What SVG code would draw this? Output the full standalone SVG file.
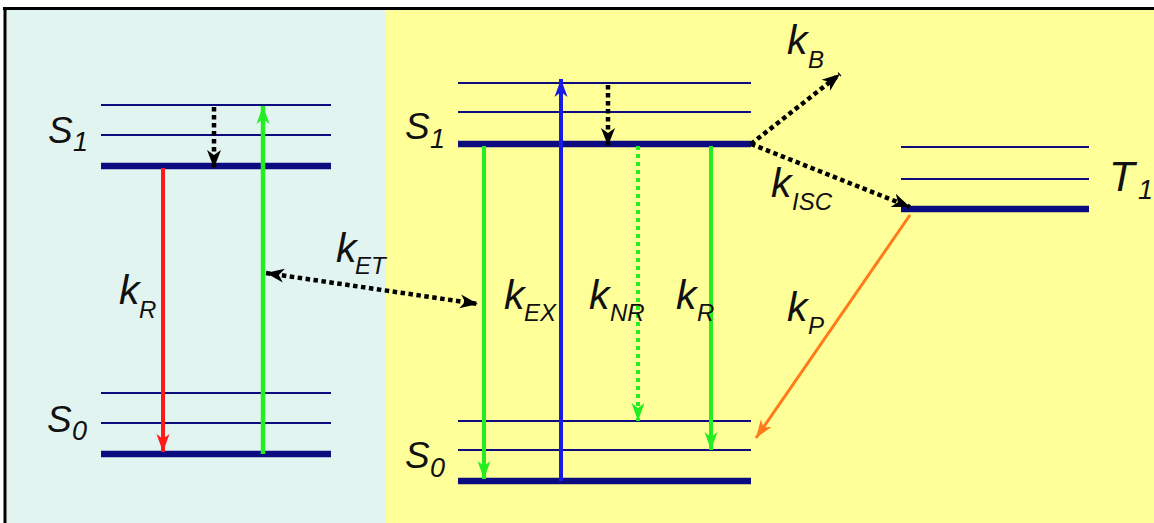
<svg xmlns="http://www.w3.org/2000/svg" width="1154" height="523" viewBox="0 0 1154 523">
<style>
.lv{stroke:#0c0c80;stroke-width:2.2}
.lvt{stroke:#0c0c80;stroke-width:6.5}
.t{font-family:"Liberation Sans",Arial,sans-serif;font-style:italic;fill:#111}
.k{font-size:41px}
.s{font-size:24px}
.S{font-size:37px}
.ss{font-size:27px}
.dot{stroke:#000;stroke-width:4.5;stroke-dasharray:4.5 3.5;fill:none}
</style>
<defs>
<marker id="hBk" markerUnits="userSpaceOnUse" markerWidth="20" markerHeight="16" refX="18" refY="8" orient="auto-start-reverse" viewBox="0 0 20 16"><path d="M0,1 L18,8 L0,15 L5,8 z" fill="#000"/></marker>
<marker id="hG" markerUnits="userSpaceOnUse" markerWidth="20" markerHeight="14" refX="18" refY="7" orient="auto" viewBox="0 0 20 14"><path d="M0,0.5 L18,7 L0,13.5 L5,7 z" fill="#22ee22"/></marker>
<marker id="hR" markerUnits="userSpaceOnUse" markerWidth="20" markerHeight="14" refX="18" refY="7" orient="auto" viewBox="0 0 20 14"><path d="M0,0.5 L18,7 L0,13.5 L5,7 z" fill="#ff1a1a"/></marker>
<marker id="hB" markerUnits="userSpaceOnUse" markerWidth="20" markerHeight="14" refX="18" refY="7" orient="auto" viewBox="0 0 20 14"><path d="M0,0.5 L18,7 L0,13.5 L5,7 z" fill="#1a1ae6"/></marker>
<marker id="hO" markerUnits="userSpaceOnUse" markerWidth="20" markerHeight="14" refX="18" refY="7" orient="auto" viewBox="0 0 20 14"><path d="M0,0.5 L18,7 L0,13.5 L5,7 z" fill="#ff7a1a"/></marker>
</defs>
<rect x="0" y="0" width="1154" height="523" fill="#fff"/>
<rect x="5" y="9" width="381" height="514" fill="#e2f4ef"/>
<rect x="386" y="9" width="768" height="514" fill="#ffff99"/>
<line x1="3" y1="8.5" x2="1154" y2="8.5" stroke="#000" stroke-width="3"/>
<line x1="5" y1="8" x2="5" y2="523" stroke="#000" stroke-width="3"/>

<g id="donor">
<line class="lv" x1="101" y1="105" x2="331" y2="105"/>
<line class="lv" x1="101" y1="135" x2="331" y2="135"/>
<line class="lvt" x1="101" y1="166" x2="331" y2="166"/>
<line class="lv" x1="101" y1="393" x2="331" y2="393"/>
<line class="lv" x1="101" y1="423" x2="331" y2="423"/>
<line class="lvt" x1="101" y1="454" x2="331" y2="454"/>
<text class="t S" x="48" y="143">S<tspan class="ss" x="73" y="151">1</tspan></text>
<text class="t S" x="47" y="432">S<tspan class="ss" x="72" y="440">0</tspan></text>
</g>

<g id="acceptor-singlet">
<line class="lv" x1="458" y1="83" x2="751" y2="83"/>
<line class="lv" x1="458" y1="112" x2="751" y2="112"/>
<line class="lvt" x1="458" y1="144" x2="751" y2="144"/>
<line class="lv" x1="458" y1="421" x2="751" y2="421"/>
<line class="lv" x1="458" y1="450" x2="751" y2="450"/>
<line class="lvt" x1="458" y1="481" x2="751" y2="481"/>
<text class="t S" x="405" y="139">S<tspan class="ss" x="430" y="148">1</tspan></text>
<text class="t S" x="405" y="468">S<tspan class="ss" x="430" y="477">0</tspan></text>
</g>

<g id="acceptor-triplet">
<line class="lv" x1="901" y1="147" x2="1089" y2="147"/>
<line class="lv" x1="901" y1="179" x2="1089" y2="179"/>
<line class="lvt" x1="901" y1="209" x2="1089" y2="209"/>
<text class="t" style="font-size:42px" x="1109" y="191">T<tspan class="ss" x="1138" y="199">1</tspan></text>
</g>

<g id="connectors">
<line class="dot" x1="214" y1="107" x2="214" y2="168" marker-end="url(#hBk)"/>
<line x1="263" y1="454" x2="263" y2="106" stroke="#22ee22" stroke-width="4.5" marker-end="url(#hG)"/>
<line x1="163" y1="168" x2="163" y2="452" stroke="#ff1a1a" stroke-width="4" marker-end="url(#hR)"/>
<line class="dot" x1="266" y1="273" x2="478" y2="304" marker-start="url(#hBk)" marker-end="url(#hBk)"/>
<line x1="484" y1="146" x2="484" y2="479" stroke="#22ee22" stroke-width="4" marker-end="url(#hG)"/>
<line x1="561" y1="481" x2="561" y2="79" stroke="#1a1ae6" stroke-width="4" marker-end="url(#hB)"/>
<line class="dot" x1="608" y1="85" x2="608" y2="146" marker-end="url(#hBk)"/>
<line x1="638" y1="146" x2="638" y2="421" stroke="#22ee22" stroke-width="4" stroke-dasharray="4 4" marker-end="url(#hG)"/>
<line x1="711" y1="146" x2="711" y2="450" stroke="#22ee22" stroke-width="4" marker-end="url(#hG)"/>
<line class="dot" x1="751" y1="144" x2="840" y2="74" marker-end="url(#hBk)"/>
<line class="dot" x1="751" y1="144" x2="910" y2="207" marker-end="url(#hBk)"/>
<line x1="910" y1="215" x2="756" y2="438" stroke="#ff7a1a" stroke-width="3" marker-end="url(#hO)"/>
</g>

<g id="labels">
<text class="t k" x="119" y="304">k<tspan class="s" x="139" y="318">R</tspan></text>
<text class="t k" x="336" y="262">k<tspan class="s" x="355" y="274">ET</tspan></text>
<text class="t k" x="504" y="309">k<tspan class="s" x="524" y="321">EX</tspan></text>
<text class="t k" x="589" y="309">k<tspan class="s" x="610" y="321">NR</tspan></text>
<text class="t k" x="676" y="309">k<tspan class="s" x="697" y="321">R</tspan></text>
<text class="t k" x="787" y="54">k<tspan class="s" x="808" y="68">B</tspan></text>
<text class="t k" x="771" y="197">k<tspan class="s" x="792" y="210">ISC</tspan></text>
<text class="t k" x="787" y="321">k<tspan class="s" x="808" y="334">P</tspan></text>
</g>
</svg>
